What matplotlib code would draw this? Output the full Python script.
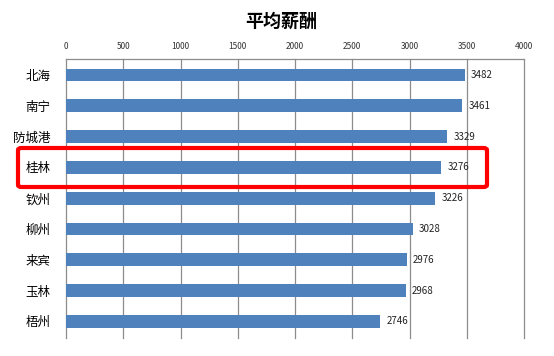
import matplotlib.pyplot as plt
from matplotlib.patches import FancyBboxPatch

plt.rcParams['font.family'] = ['Noto Sans CJK SC', 'DejaVu Sans']

# 数据
cities = ['北海', '南宁', '防城港', '桂林', '钦州', '柳州', '来宾', '玉林', '梧州']
salary = [3482, 3461, 3329, 3276, 3226, 3028, 2976, 2968, 2746]
xticks = [0, 500, 1000, 1500, 2000, 2500, 3000, 3500, 4000]
highlight = '桂林'

fig = plt.figure(figsize=(5.54, 3.56), dpi=100)
ax = fig.add_axes([66 / 554, 1 - 338 / 356, 458 / 554, 279 / 356])

y = list(range(len(cities)))
ax.barh(y, salary, height=0.42, color='#4F81BD', zorder=3)
for i, v in enumerate(salary):
    ax.text(v + 55, i, str(v), va='center', ha='left', fontsize=7, color='#222222')

ax.set_xlim(0, 4000)
ax.set_ylim(len(cities) - 0.46, -0.52)
ax.set_xticks(xticks)
ax.xaxis.tick_top()
ax.tick_params(axis='x', length=0, pad=6, labelsize=6, colors='#333333')
ax.set_yticks(y)
ax.set_yticklabels(cities, fontsize=9)
ax.tick_params(axis='y', length=0, pad=11)
ax.grid(axis='x', color='#8c8c8c', linewidth=0.9, zorder=0)
for gl in ax.get_xgridlines():
    gl.set_clip_on(False)
for s in ['right', 'bottom', 'left']:
    ax.spines[s].set_visible(False)
ax.spines['top'].set_color('#8c8c8c')
ax.spines['top'].set_linewidth(0.9)

fig.text(281 / 554, 1 - 21 / 356, '平均薪酬', ha='center', va='center',
         fontsize=13, fontweight='bold')

# 红框标出桂林
hi = cities.index(highlight)
x0, x1 = 18 / 554, 487 / 554
box = FancyBboxPatch((x0, 1 - 187 / 356), x1 - x0, 39 / 356,
                     boxstyle='round,pad=0,rounding_size=0.006',
                     transform=fig.transFigure, fill=False,
                     edgecolor='#FF0000', linewidth=3, zorder=10)
fig.patches.append(box)

fig.savefig('out.png', dpi=100)
